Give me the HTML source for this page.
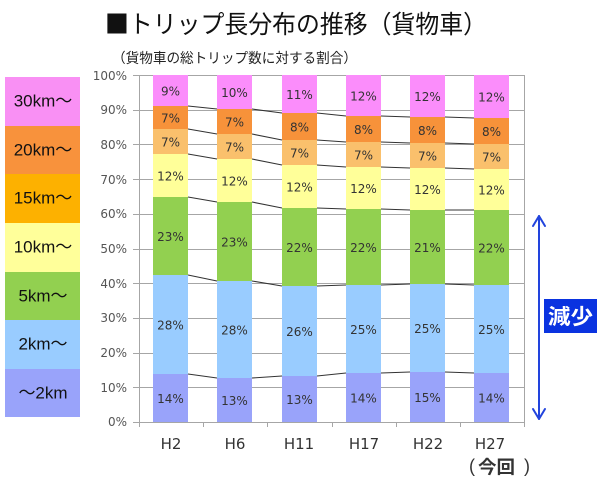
<!DOCTYPE html>
<html><head><meta charset="utf-8"><style>
html,body{margin:0;padding:0;background:#fff;}
svg{display:block;}
.t{font-family:"DejaVu Sans","Liberation Sans",sans-serif;}
.j{font-family:"Liberation Sans","Noto Sans CJK JP",sans-serif;}
.c{font-family:"Noto Sans CJK JP","Liberation Sans",sans-serif;}
</style></head><body>
<svg width="600" height="484" viewBox="0 0 600 484" xmlns="http://www.w3.org/2000/svg">
<rect width="600" height="484" fill="#fff"/>
<text x="105" y="23" class="c" font-size="25" font-weight="normal" fill="#111" dominant-baseline="central" textLength="382" lengthAdjust="spacingAndGlyphs">■トリップ長分布の推移（貨物車）</text>
<text x="112" y="58" class="c" font-size="14" fill="#222" dominant-baseline="central" textLength="245" lengthAdjust="spacingAndGlyphs">（貨物車の総トリップ数に対する割合）</text>

<!-- legend -->
<g class="j" font-size="17" fill="#111" text-anchor="middle">
<rect x="5" y="77" width="75" height="49" fill="#F990F4"/>
<rect x="5" y="126" width="75" height="48" fill="#F8923C"/>
<rect x="5" y="174" width="75" height="49" fill="#FDB100"/>
<rect x="5" y="223" width="75" height="49" fill="#FFFF9A"/>
<rect x="5" y="272" width="75" height="48" fill="#92D050"/>
<rect x="5" y="320" width="75" height="49" fill="#99CCFF"/>
<rect x="5" y="369" width="75" height="48" fill="#99A3FA"/>
<text x="43" y="101" dominant-baseline="central">30km～</text>
<text x="43" y="150" dominant-baseline="central">20km～</text>
<text x="43" y="198" dominant-baseline="central">15km～</text>
<text x="43" y="247" dominant-baseline="central">10km～</text>
<text x="43" y="296" dominant-baseline="central">5km～</text>
<text x="43" y="344" dominant-baseline="central">2km～</text>
<text x="43" y="393" dominant-baseline="central">～2km</text>
</g>

<!-- grid -->
<g stroke="#A6A6A6" stroke-width="1">
<line x1="133" y1="75.5" x2="524" y2="75.5"/>
<line x1="133" y1="110.5" x2="524" y2="110.5"/>
<line x1="133" y1="144.5" x2="524" y2="144.5"/>
<line x1="133" y1="179.5" x2="524" y2="179.5"/>
<line x1="133" y1="214.5" x2="524" y2="214.5"/>
<line x1="133" y1="249.5" x2="524" y2="249.5"/>
<line x1="133" y1="283.5" x2="524" y2="283.5"/>
<line x1="133" y1="318.5" x2="524" y2="318.5"/>
<line x1="133" y1="353.5" x2="524" y2="353.5"/>
<line x1="133" y1="387.5" x2="524" y2="387.5"/>
<line x1="133" y1="422.5" x2="524" y2="422.5"/>
<line x1="139.5" y1="75" x2="139.5" y2="427"/>
<line x1="524.5" y1="75" x2="524.5" y2="427"/>
<line x1="203.5" y1="422" x2="203.5" y2="427"/>
<line x1="267.5" y1="422" x2="267.5" y2="427"/>
<line x1="332.5" y1="422" x2="332.5" y2="427"/>
<line x1="396.5" y1="422" x2="396.5" y2="427"/>
<line x1="460.5" y1="422" x2="460.5" y2="427"/>
</g>
<g class="t" font-size="12" fill="#555" text-anchor="end">
<text x="127" y="76" dominant-baseline="central">100%</text>
<text x="127" y="110" dominant-baseline="central">90%</text>
<text x="127" y="145" dominant-baseline="central">80%</text>
<text x="127" y="180" dominant-baseline="central">70%</text>
<text x="127" y="214" dominant-baseline="central">60%</text>
<text x="127" y="249" dominant-baseline="central">50%</text>
<text x="127" y="284" dominant-baseline="central">40%</text>
<text x="127" y="318" dominant-baseline="central">30%</text>
<text x="127" y="353" dominant-baseline="central">20%</text>
<text x="127" y="388" dominant-baseline="central">10%</text>
<text x="127" y="422" dominant-baseline="central">0%</text>
</g>

<!-- bars -->
<g id="bars"></g>
<g id="lines" stroke="#333" stroke-width="1.1" fill="none"></g>
<g id="labels" class="t" font-size="12" fill="#333" text-anchor="middle"></g>

<!-- x labels -->
<g class="t" font-size="15" fill="#333" text-anchor="middle">
<text x="171" y="449">H2</text>
<text x="235" y="449">H6</text>
<text x="299" y="449">H11</text>
<text x="364" y="449">H17</text>
<text x="428" y="449">H22</text>
<text x="490" y="449">H27</text>
</g>
<g fill="#333">
<text x="472" y="472" font-family="Liberation Sans, sans-serif" font-size="18" text-anchor="middle">(</text>
<text x="478" y="466.5" class="c" font-size="18" font-weight="bold" dominant-baseline="central" textLength="37" lengthAdjust="spacingAndGlyphs">今回</text>
<text x="527" y="472" font-family="Liberation Sans, sans-serif" font-size="18" text-anchor="middle">)</text>
</g>

<!-- arrow -->
<g stroke="#2244DD" stroke-width="2" fill="none" stroke-linecap="round" stroke-linejoin="round">
<line x1="539" y1="216" x2="539" y2="419"/>
<polyline points="533,226 539,216 545,226"/>
<polyline points="533,409 539,419 545,409"/>
</g>
<rect x="544" y="299" width="53" height="34" fill="#0A33E0"/>
<text x="548" y="316" class="c" font-size="21" font-weight="bold" fill="#fff" dominant-baseline="central" textLength="45" lengthAdjust="spacingAndGlyphs">減少</text>

<script>
(function(){
var NS="http://www.w3.org/2000/svg";
var xs=[153,217,282,346,410,474],W=35;
var B=[[75,106,129,154,197,275,374,422],[75,109,134,159,202,281,378,422],[75,113,140,165,208,286,376,422],[75,116,142,167,209,285,373,422],[75,117,143,168,210,284,372,422],[75,118,144,169,210,285,373,422]];
var L=[[9,7,7,12,23,28,14],[10,7,7,12,23,28,13],[11,8,7,12,22,26,13],[12,8,7,12,22,25,14],[12,8,7,12,21,25,15],[12,8,7,12,22,25,14]];
var C=["#FB8DFB","#F7923A","#FAC06C","#FFFF99","#92D050","#99CCFF","#99A3FA"];
var gb=document.getElementById("bars"),gl=document.getElementById("lines"),gt=document.getElementById("labels");
for(var i=0;i<6;i++){for(var s=0;s<7;s++){var r=document.createElementNS(NS,"rect");r.setAttribute("x",xs[i]);r.setAttribute("y",B[i][s]);r.setAttribute("width",W);r.setAttribute("height",B[i][s+1]-B[i][s]);r.setAttribute("fill",C[s]);gb.appendChild(r);
var t=document.createElementNS(NS,"text");t.setAttribute("x",xs[i]+W/2);t.setAttribute("y",(B[i][s]+B[i][s+1])/2+1);t.setAttribute("dominant-baseline","central");t.textContent=L[i][s]+"%";gt.appendChild(t);}
if(i<5){for(var k=1;k<7;k++){var l=document.createElementNS(NS,"line");l.setAttribute("x1",xs[i]+W);l.setAttribute("y1",B[i][k]);l.setAttribute("x2",xs[i+1]);l.setAttribute("y2",B[i+1][k]);gl.appendChild(l);}}}
})();
</script>
</svg>
</body></html>
